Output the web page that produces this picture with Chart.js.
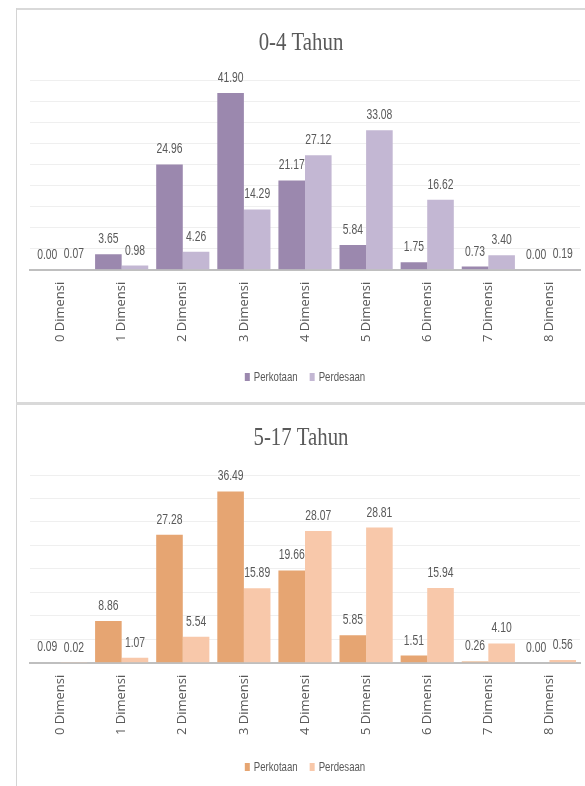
<!DOCTYPE html>
<html>
<head>
<meta charset="utf-8">
<script src="https://cdn.jsdelivr.net/npm/chart.js@4.4.1/dist/chart.umd.min.js"></script>
<style>
  body { margin: 0; background: #fff; }
  .wrap { position: relative; width: 585px; height: 786px; overflow: hidden; }
  .line { position: absolute; background: #d9d9d9; }
  canvas { position: absolute; }
</style>
</head>
<body>
<div class="wrap">
  <div class="line" style="left:16px; top:8px; width:569px; height:2px;"></div>
  <div class="line" style="left:16px; top:8px; width:1px; height:778px; background:#d4d4d4;"></div>
  <div class="line" style="left:16px; top:402px; width:569px; height:3px;"></div>
  <canvas id="chartBalita" style="left:17px; top:11px;"></canvas>
  <canvas id="chartAnak" style="left:17px; top:406px;"></canvas>
</div>
<script>
const categories = ["0 Dimensi", "1 Dimensi", "2 Dimensi", "3 Dimensi", "4 Dimensi",
                    "5 Dimensi", "6 Dimensi", "7 Dimensi", "8 Dimensi"];

const kotaBalita = [0.00, 3.65, 24.96, 41.90, 21.17, 5.84, 1.75, 0.73, 0.00];
const desaBalita = [0.07, 0.98, 4.26, 14.29, 27.12, 33.08, 16.62, 3.40, 0.19];

const kotaAnak = [0.09, 8.86, 27.28, 36.49, 19.66, 5.85, 1.51, 0.26, 0.00];
const desaAnak = [0.02, 1.07, 5.54, 15.89, 28.07, 28.81, 15.94, 4.10, 0.56];

const seriesNames = ["Perkotaan", "Perdesaan"];

const grey = "#595959";
const sans = "'Liberation Sans', Arial, sans-serif";

// draws text squeezed horizontally around (x, y)
function narrowText(ctx, text, x, y, sx) {
    ctx.save();
    ctx.translate(x, y);
    ctx.scale(sx, 1);
    ctx.fillText(text, 0, 0);
    ctx.restore();
}

// value labels above each bar
const barValues = {
    id: "barValues",
    afterDatasetsDraw(chart) {
        const ctx = chart.ctx;
        ctx.save();
        ctx.font = "14px " + sans;
        ctx.fillStyle = grey;
        ctx.textAlign = "center";
        ctx.textBaseline = "alphabetic";
        chart.data.datasets.forEach((ds, i) => {
            chart.getDatasetMeta(i).data.forEach((bar, j) => {
                narrowText(ctx, ds.data[j].toFixed(2), bar.x, bar.y - 11, 0.74);
            });
        });
        ctx.restore();
    }
};

// serif heading and the legend row under the axis labels
const frame = {
    id: "frame",
    afterDraw(chart, args, opts) {
        const ctx = chart.ctx;
        const area = chart.chartArea;
        const cx = (area.left + area.right) / 2;
        ctx.save();
        ctx.font = "26px 'Liberation Serif', 'DejaVu Serif', serif";
        ctx.fillStyle = grey;
        ctx.textAlign = "center";
        ctx.textBaseline = "middle";
        narrowText(ctx, opts.text, chart.width / 2, opts.titleY, 0.8);
        ctx.restore();

        // legend
        const sx = 0.74;
        ctx.save();
        ctx.font = "13px " + sans;
        ctx.textBaseline = "middle";
        ctx.textAlign = "left";
        const items = chart.data.datasets.map(ds => ({
            label: ds.label,
            color: ds.backgroundColor,
            w: ctx.measureText(ds.label).width * sx
        }));
        const boxW = 5, boxH = 8, gap = 4, spacing = 12;
        let total = 0;
        items.forEach((it, k) => { total += boxW + gap + it.w + (k ? spacing : 0); });
        let x = cx - total / 2;
        const y = opts.legendY;
        items.forEach(it => {
            ctx.fillStyle = it.color;
            ctx.fillRect(x, y - boxH / 2, boxW, boxH);
            x += boxW + gap;
            ctx.fillStyle = grey;
            narrowText(ctx, it.label, x, y, sx);
            x += it.w + spacing;
        });
        ctx.restore();
    }
};

function makeChart(id, title, kota, desa, colors, yMax, w, h, pad, legendY) {
    const canvas = document.getElementById(id);
    canvas.width = w;
    canvas.height = h;
    canvas.style.width = w + "px";
    canvas.style.height = h + "px";
    return new Chart(canvas, {
        type: "bar",
        data: {
            labels: categories,
            datasets: [
                { label: seriesNames[0], data: kota, backgroundColor: colors[0] },
                { label: seriesNames[1], data: desa, backgroundColor: colors[1] }
            ]
        },
        options: {
            responsive: false,
            animation: false,
            devicePixelRatio: 1,
            categoryPercentage: 0.87,
            barPercentage: 1.0,
            layout: { padding: pad },
            scales: {
                x: {
                    grid: { display: false, drawTicks: false },
                    border: { color: "#bfbfbf", width: 2 },
                    ticks: {
                        color: grey,
                        font: { family: "'Open Sans', sans-serif", size: 13 },
                        minRotation: 90, maxRotation: 90,
                        padding: 12
                    }
                },
                y: {
                    min: 0, max: yMax,
                    ticks: { display: false, stepSize: 5 },
                    grid: { color: "#efefef", lineWidth: 1, drawTicks: false },
                    border: { display: false },
                    afterFit: s => { s.width = 0; }
                }
            },
            plugins: {
                legend: { display: false },
                tooltip: { enabled: false },
                frame: { text: title, titleY: 32, legendY: legendY }
            }
        },
        plugins: [barValues, frame]
    });
}

makeChart("chartBalita", "0-4 Tahun", kotaBalita, desaBalita,
          ["#9b88ae", "#c3b7d3"], 45, 568, 390,
          { top: 69, left: 13, right: 5, bottom: 47 }, 366);

makeChart("chartAnak", "5-17 Tahun", kotaAnak, desaAnak,
          ["#e6a572", "#f8c8aa"], 40, 568, 380,
          { top: 69, left: 13, right: 5, bottom: 39 }, 361);
</script>
</body>
</html>
